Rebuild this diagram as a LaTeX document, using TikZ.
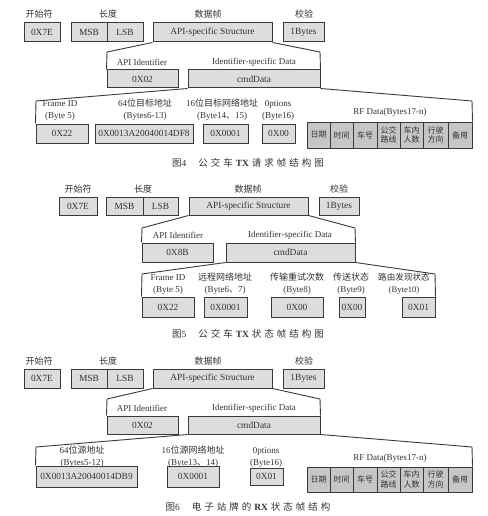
\documentclass[tikz,border=0pt]{standalone}
\usepackage{fontspec}
\setmainfont{Liberation Serif}
\newfontfamily\cjk{Noto Sans CJK SC}
\newcommand\zh[1]{{\cjk #1}}
\newcommand\cg{\hspace{3pt}}
\definecolor{lc}{HTML}{3A3A3A}
\definecolor{bf}{HTML}{DDDDDD}
\definecolor{cf}{HTML}{C6C6C6}
\definecolor{tc}{HTML}{333333}
\tikzset{
  box/.style={draw=lc, fill=bf, line width=1pt, inner sep=0pt, text=tc, font=\fontsize{9.4}{10}\selectfont},
  cell/.style={box, fill=cf, align=center, font=\cjk\fontsize{8}{9.5}\selectfont},
  lbl/.style={inner sep=0pt, text=tc, align=center, font=\fontsize{9}{12}\selectfont},
  toplbl/.style={lbl, font=\cjk\fontsize{9}{11}\selectfont},
  ln/.style={draw=lc, line width=0.9pt, line join=miter},
  captxt/.style={inner sep=0pt, text=tc, font=\fontsize{9.5}{11}\selectfont}
}
% [style]{name}{x1}{x2}{y1}{y2}{text}
\newcommand\Bx[7][box]{\node[#1, minimum width={#4-#3}, minimum height={#6-#5}] (#2) at ({(#3+#4)/2},{(#5+#6)/2}) {#7};}
\newcommand\RFrow[3]{%
  \foreach \n/\xa/\xb/\t in {a/307/330/日期,b/330/353/时间,c/353/377/车号,d/377/400/公交\\路线,e/400/423/车内\\人数,f/423/448/行驶\\方向,g/448/472/备用}{%
    \Bx[cell]{#1\n}{\xa}{\xb}{#2}{#3}{\t}}}
\begin{document}
\begin{tikzpicture}[x=1pt,y=-1pt]
\useasboundingbox (0,0) rectangle (487,516);
\fill[white] (0,0) rectangle (487,516);

%================ Figure 4 ================
\node[toplbl] (t4a) at (39,14) {开始符};
\node[toplbl] (t4b) at (108,14) {长度};
\node[toplbl] (t4c) at (208,14) {数据帧};
\node[toplbl] (t4d) at (304,14) {校验};
\Bx{s4}{24}{60}{23}{42}{0X7E}
\Bx{m4}{71}{107}{23}{42}{MSB}
\Bx{l4}{107}{143}{23}{42}{LSB}
\Bx{a4}{153}{272}{23}{42}{API-specific Structure}
\Bx{c4}{283}{324}{23}{42}{1Bytes}

\node[lbl] (ia4) at (142,62) {API Identifier};
\node[lbl] (da4) at (254,62) {Identifier-specific Data};
\Bx{i4}{107}{178}{70}{88}{0X02}
\Bx{d4}{188}{320}{70}{88}{cmdData}
\coordinate (k4a) at (107,52);
\coordinate (k4b) at (320,52);
\draw[ln] (a4.south west) -- (k4a) -- (i4.north west);
\draw[ln] (a4.south east) -- (k4b) -- (d4.north east);

\node[lbl] (q4a) at (60,111) {Frame ID\\(Byte 5)};
\node[lbl] (q4b) at (145,110) {64\zh{位目标地址}\\(Bytes6-13)};
\node[lbl] (q4c) at (222,110) {16\zh{位目标网络地址}\\(Byte14\zh{、}15)};
\node[lbl] (q4d) at (278,110) {0ptions\\(Byte16)};
\node[lbl] (q4e) at (390,112) {RF Data(Bytes17-n)};
\Bx{f4}{36}{88}{124}{143}{0X22}
\Bx{g4}{95}{193}{124}{143}{0X0013A20040014DF8}
\Bx{h4}{203}{248}{124}{143}{0X0001}
\Bx{o4}{262}{295}{124}{143}{0X00}
\RFrow{r4}{122}{148}
\coordinate (k4c) at (36,101);
\coordinate (k4d) at (472,101);
\draw[ln] (d4.south west) -- (k4c) -- (f4.north west);
\draw[ln] (d4.south east) -- (k4d) -- (r4g.north east);

\node[captxt] (cap4) at (248,163) {\zh{图}4\hspace{12pt}\zh{公\cg 交\cg 车}\cg\textbf{TX}\cg\zh{请\cg 求\cg 帧\cg 结\cg 构\cg 图}};

%================ Figure 5 ================
\node[toplbl] (t5a) at (78,189) {开始符};
\node[toplbl] (t5b) at (143,189) {长度};
\node[toplbl] (t5c) at (248,189) {数据帧};
\node[toplbl] (t5d) at (339,189) {校验};
\Bx{s5}{59}{97}{197}{215}{0X7E}
\Bx{m5}{106}{143}{197}{215}{MSB}
\Bx{l5}{143}{178}{197}{215}{LSB}
\Bx{a5}{189}{308}{197}{215}{API-specific Structure}
\Bx{c5}{319}{359}{197}{215}{1Bytes}

\node[lbl] (ia5) at (178,235) {API Identifier};
\node[lbl] (da5) at (290,235) {Identifier-specific Data};
\Bx{i5}{142}{213}{243}{262}{0X8B}
\Bx{d5}{226}{355}{243}{262}{cmdData}
\coordinate (k5a) at (142,228);
\coordinate (k5b) at (355,228);
\draw[ln] (a5.south west) -- (k5a) -- (i5.north west);
\draw[ln] (a5.south east) -- (k5b) -- (d5.north east);

\node[lbl] (q5a) at (168,285) {Frame ID\\(Byte 5)};
\node[lbl] (q5b) at (225,284) {\zh{远程网络地址}\\(Byte6\zh{、}7)};
\node[lbl] (q5c) at (297,284) {\zh{传输重试次数}\\(Byte8)};
\node[lbl] (q5d) at (351,284) {\zh{传送状态}\\(Byte9)};
\node[lbl, font=\fontsize{8.6}{12}\selectfont] (q5e) at (404,284) {\zh{路由发现状态}\\(Byte10)};
\Bx{f5}{142}{194}{297}{317}{0X22}
\Bx{g5}{204}{247}{297}{317}{0X0001}
\Bx{h5}{271}{323}{297}{317}{0X00}
\Bx{o5}{339}{365}{297}{317}{0X00}
\Bx{p5}{402}{435}{297}{317}{0X01}
\coordinate (k5c) at (142,274);
\coordinate (k5d) at (435,274);
\draw[ln] (d5.south west) -- (k5c) -- (f5.north west);
\draw[ln] (d5.south east) -- (k5d) -- (p5.north east);

\node[captxt] (cap5) at (248,334) {\zh{图}5\hspace{12pt}\zh{公\cg 交\cg 车}\cg\textbf{TX}\cg\zh{状\cg 态\cg 帧\cg 结\cg 构\cg 图}};

%================ Figure 6 ================
\node[toplbl] (t6a) at (39,361) {开始符};
\node[toplbl] (t6b) at (108,361) {长度};
\node[toplbl] (t6c) at (208,361) {数据帧};
\node[toplbl] (t6d) at (304,361) {校验};
\Bx{s6}{24}{60}{369}{388}{0X7E}
\Bx{m6}{71}{107}{369}{388}{MSB}
\Bx{l6}{107}{143}{369}{388}{LSB}
\Bx{a6}{153}{272}{369}{388}{API-specific Structure}
\Bx{c6}{283}{324}{369}{388}{1Bytes}

\node[lbl] (ia6) at (142,408) {API Identifier};
\node[lbl] (da6) at (254,408) {Identifier-specific Data};
\Bx{i6}{107}{178}{416}{434}{0X02}
\Bx{d6}{188}{320}{416}{434}{cmdData}
\coordinate (k6a) at (107,399);
\coordinate (k6b) at (320,399);
\draw[ln] (a6.south west) -- (k6a) -- (i6.north west);
\draw[ln] (a6.south east) -- (k6b) -- (d6.north east);

\node[lbl] (q6a) at (82,457) {64\zh{位源地址}\\(Bytes5-12)};
\node[lbl] (q6b) at (193,457) {16\zh{位源网络地址}\\(Byte13\zh{、}14)};
\node[lbl] (q6c) at (266,457) {0ptions\\(Byte16)};
\node[lbl] (q6d) at (390,458) {RF Data(Bytes17-n)};
\Bx{g6}{36}{137}{466}{487}{0X0013A20040014DB9}
\Bx{h6}{167}{219}{466}{487}{0X0001}
\Bx{o6}{250}{283}{468}{485}{0X01}
\RFrow{r6}{467}{492}
\coordinate (k6c) at (36,447);
\coordinate (k6d) at (472,447);
\draw[ln] (d6.south west) -- (k6c) -- (g6.north west);
\draw[ln] (d6.south east) -- (k6d) -- (r6g.north east);

\node[captxt] (cap6) at (248,507) {\zh{图}6\hspace{12pt}\zh{电\cg 子\cg 站\cg 牌\cg 的}\cg\textbf{RX}\cg\zh{状\cg 态\cg 帧\cg 结\cg 构}};
\end{tikzpicture}
\end{document}
